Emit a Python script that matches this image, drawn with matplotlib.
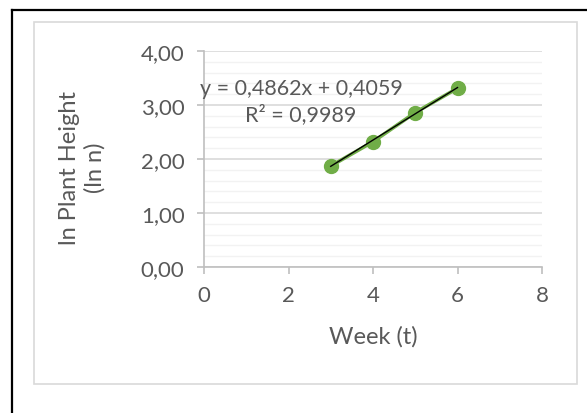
import matplotlib.pyplot as plt
from matplotlib.patches import Rectangle
from matplotlib.lines import Line2D
import numpy as np

weeks = [3, 4, 5, 6]
ln_height = [1.87, 2.32, 2.86, 3.31]

# trendline shown by the chart
slope = 0.4862
intercept = 0.4059
r_squared = 0.9989

x_ticks = [0, 2, 4, 6, 8]
y_ticks = [0, 1, 2, 3, 4]
y_tick_labels = ['0,00', '1,00', '2,00', '3,00', '4,00']

plt.rcParams['font.family'] = ['Lato', 'DejaVu Sans']
text_col = '#595959'

fig = plt.figure(figsize=(5.87, 4.14), dpi=100)
fig.patch.set_facecolor('white')

# chart area frame and outer black border
fig.add_artist(Rectangle((34 / 587, 1 - 385 / 414), 543 / 587, 362 / 414,
                         transform=fig.transFigure, fill=False,
                         edgecolor='#D9D9D9', linewidth=1.2))
fig.add_artist(Line2D([12 / 587, 12 / 587], [0, 1 - 11 / 414],
                      transform=fig.transFigure, color='black', linewidth=1.6))
fig.add_artist(Line2D([12 / 587, 1], [1 - 11 / 414, 1 - 11 / 414],
                      transform=fig.transFigure, color='black', linewidth=1.6))

ax = fig.add_axes([204 / 587, 1 - 268 / 414, 338 / 587, 216 / 414])

ax.plot(weeks, ln_height, color='#70AD47', linewidth=2.6, marker='o',
        markersize=10, zorder=3)
xt = np.array([weeks[0], weeks[-1]])
ax.plot(xt, slope * xt + intercept, color='black', linewidth=1.0, zorder=4)

ax.set_xlim(0, 8)
ax.set_ylim(0, 4)
ax.set_xticks(x_ticks)
ax.set_yticks(y_ticks)
ax.set_yticklabels(y_tick_labels)
ax.set_yticks(np.arange(0, 4.01, 0.2), minor=True)

ax.grid(True, which='major', axis='y', color='#D9D9D9', linewidth=1.2)
ax.grid(True, which='minor', axis='y', color='#F2F2F2', linewidth=1.0)
ax.set_axisbelow(True)

for s in ['top', 'right']:
    ax.spines[s].set_visible(False)
for s in ['left', 'bottom']:
    ax.spines[s].set_color('#BFBFBF')
    ax.spines[s].set_linewidth(1.2)

ax.tick_params(axis='both', which='major', direction='out', length=5,
               color='#BFBFBF', width=1.2, labelsize=16, labelcolor=text_col)
ax.tick_params(axis='y', which='minor', length=0)
ax.tick_params(axis='x', pad=8)
ax.tick_params(axis='y', pad=9)

ax.set_xlabel('Week (t)', fontsize=17, color=text_col)
ax.set_ylabel('ln Plant Height\n(ln n)', fontsize=17, color=text_col,
              linespacing=1.25)
ax.xaxis.label.set_va('center')
ax.yaxis.label.set_va('center')
ax.xaxis.set_label_coords(0.5, -0.319)
ax.yaxis.set_label_coords(-0.361, 0.463)

ax.text(2.30, 3.08,
        f'y = {slope:.4f}x + {intercept:.4f}'.replace('.', ',') + '\n'
        + f'R² = {r_squared:.4f}'.replace('.', ','),
        ha='center', va='center', fontsize=15.5, color=text_col,
        linespacing=1.3)

fig.savefig('out.png', dpi=100)
